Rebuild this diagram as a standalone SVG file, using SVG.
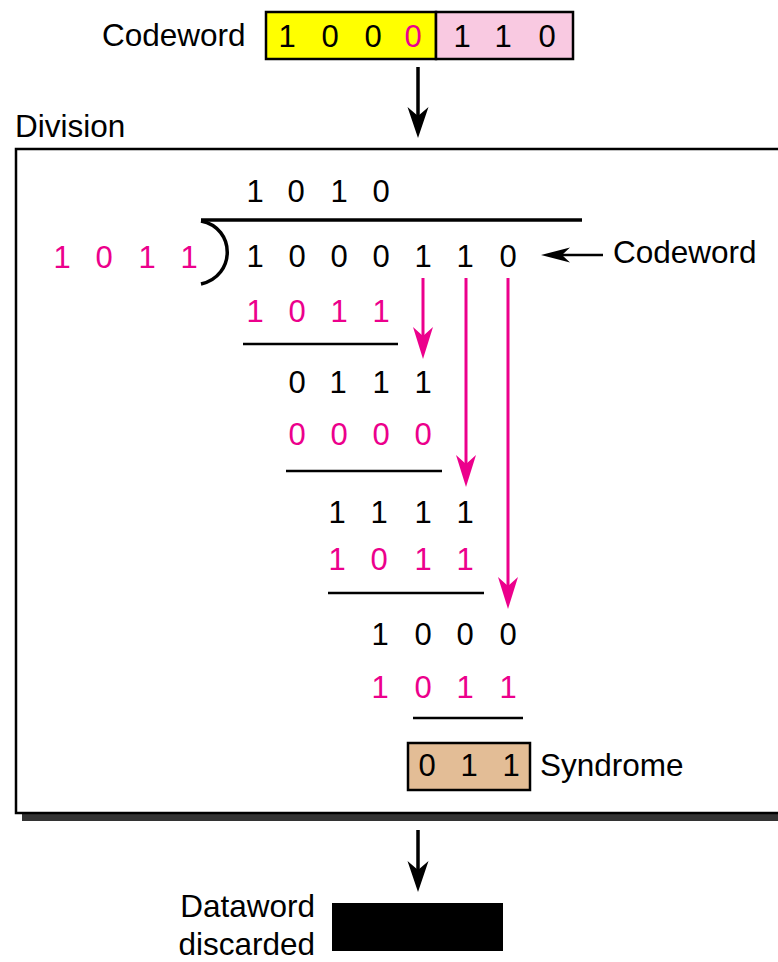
<svg xmlns="http://www.w3.org/2000/svg" width="778" height="962" viewBox="0 0 778 962">
  <defs>
    <style>
      text { font-family: "Liberation Sans", Arial, sans-serif; }
      .lbl { font-size: 31.5px; fill: #000; }
      .dg { font-size: 31px; fill: #000; text-anchor: middle; }
      .pk { fill: #ec008c; }
      .rule { stroke: #000; stroke-width: 2.5; fill: none; }
      .flow { stroke: #ec008c; stroke-width: 3; fill: none; marker-end: url(#pinkHead); }
      .down { stroke: #000; stroke-width: 3.5; fill: none; marker-end: url(#blackHead); }
    </style>
    <marker id="pinkHead" markerUnits="userSpaceOnUse" markerWidth="34" markerHeight="24" viewBox="0 -12 34 24" refX="9" refY="0" orient="auto">
      <path d="M0,-10 L32,0 L0,10 L9,0 Z" fill="#ec008c"/>
    </marker>
    <marker id="blackHead" markerUnits="userSpaceOnUse" markerWidth="34" markerHeight="24" viewBox="0 -12 34 24" refX="9" refY="0" orient="auto">
      <path d="M0,-10.5 L31,0 L0,10.5 L9,0 Z" fill="#000"/>
    </marker>
    <marker id="smallHead" markerUnits="userSpaceOnUse" markerWidth="32" markerHeight="18" viewBox="0 -9 32 18" refX="8" refY="0" orient="auto">
      <path d="M0,-7.5 L29,0 L0,7.5 L8,0 Z" fill="#000"/>
    </marker>
  </defs>

  <!-- received codeword -->
  <g id="codeword">
    <text class="lbl" x="102" y="46">Codeword</text>
    <rect x="266" y="12" width="170" height="47" fill="#ffff00" stroke="#000" stroke-width="2.5"/>
    <rect x="436" y="12" width="137" height="47" fill="#f9c9e1" stroke="#000" stroke-width="2.5"/>
    <text class="dg" x="287" y="47">1</text>
    <text class="dg" x="330" y="47">0</text>
    <text class="dg" x="373" y="47">0</text>
    <text class="dg pk" x="413" y="47">0</text>
    <text class="dg" x="462" y="47">1</text>
    <text class="dg" x="503" y="47">1</text>
    <text class="dg" x="547" y="47">0</text>
  </g>

  <!-- division frame -->
  <g id="division">
    <text class="lbl" x="15" y="137">Division</text>
    <rect x="22" y="157" width="800" height="664" fill="#333"/>
    <rect x="16" y="149" width="800" height="664" fill="#fff" stroke="#000" stroke-width="2.5"/>

    <!-- quotient -->
    <text class="dg" x="255" y="202">1</text>
    <text class="dg" x="296" y="202">0</text>
    <text class="dg" x="339" y="202">1</text>
    <text class="dg" x="381" y="202">0</text>

    <!-- division bar and bracket -->
    <line x1="201" y1="220" x2="582" y2="220" stroke="#000" stroke-width="3.5"/>
    <path d="M201,221 C236,228 236,276 201,284" stroke="#000" stroke-width="3.5" fill="none"/>

    <!-- divisor -->
    <text class="dg pk" x="62" y="268">1</text>
    <text class="dg pk" x="104" y="268">0</text>
    <text class="dg pk" x="147" y="268">1</text>
    <text class="dg pk" x="189" y="268">1</text>

    <!-- dividend -->
    <text class="dg" x="255" y="267">1</text>
    <text class="dg" x="297" y="267">0</text>
    <text class="dg" x="339" y="267">0</text>
    <text class="dg" x="381" y="267">0</text>
    <text class="dg" x="423" y="267">1</text>
    <text class="dg" x="465" y="267">1</text>
    <text class="dg" x="508" y="267">0</text>

    <!-- step 1 -->
    <text class="dg pk" x="255" y="322">1</text>
    <text class="dg pk" x="297" y="322">0</text>
    <text class="dg pk" x="339" y="322">1</text>
    <text class="dg pk" x="381" y="322">1</text>
    <line class="rule" x1="243" y1="344" x2="398" y2="344"/>
    <text class="dg" x="297" y="393">0</text>
    <text class="dg" x="338" y="393">1</text>
    <text class="dg" x="381" y="393">1</text>
    <text class="dg" x="423" y="393">1</text>

    <!-- step 2 -->
    <text class="dg pk" x="297" y="445">0</text>
    <text class="dg pk" x="339" y="445">0</text>
    <text class="dg pk" x="381" y="445">0</text>
    <text class="dg pk" x="423" y="445">0</text>
    <line class="rule" x1="286" y1="471" x2="442" y2="471"/>
    <text class="dg" x="337" y="523">1</text>
    <text class="dg" x="379" y="523">1</text>
    <text class="dg" x="423" y="523">1</text>
    <text class="dg" x="465" y="523">1</text>

    <!-- step 3 -->
    <text class="dg pk" x="337" y="570">1</text>
    <text class="dg pk" x="379" y="570">0</text>
    <text class="dg pk" x="423" y="570">1</text>
    <text class="dg pk" x="465" y="570">1</text>
    <line class="rule" x1="328" y1="593" x2="484" y2="593"/>
    <text class="dg" x="380" y="645">1</text>
    <text class="dg" x="423" y="645">0</text>
    <text class="dg" x="465" y="645">0</text>
    <text class="dg" x="508" y="645">0</text>

    <!-- step 4 -->
    <text class="dg pk" x="380" y="698">1</text>
    <text class="dg pk" x="423" y="698">0</text>
    <text class="dg pk" x="465" y="698">1</text>
    <text class="dg pk" x="508" y="698">1</text>
    <line class="rule" x1="413" y1="718" x2="523" y2="718"/>

    <text class="lbl" x="613" y="263">Codeword</text>
  </g>

  <!-- syndrome -->
  <g id="syndrome">
    <rect x="408" y="743" width="122" height="47" fill="#e3bd96" stroke="#000" stroke-width="2.5"/>
    <text class="dg" x="427" y="776">0</text>
    <text class="dg" x="469" y="776">1</text>
    <text class="dg" x="511" y="776">1</text>
    <text class="lbl" x="540" y="776">Syndrome</text>
  </g>

  <!-- discarded dataword -->
  <g id="dataword">
    <text class="lbl" x="315" y="917" text-anchor="end">Dataword</text>
    <text class="lbl" x="315" y="955" text-anchor="end">discarded</text>
    <rect x="332" y="903" width="171" height="48" fill="#000"/>
  </g>

  <!-- connectors -->
  <g id="connectors">
    <line class="down" x1="418" y1="67" x2="418" y2="116"/>
    <line class="down" x1="418" y1="830" x2="418" y2="870"/>
    <line x1="603" y1="255" x2="562" y2="255" stroke="#000" stroke-width="2.5" marker-end="url(#smallHead)"/>
    <line class="flow" x1="423" y1="278" x2="423" y2="336"/>
    <line class="flow" x1="466" y1="278" x2="466" y2="464"/>
    <line class="flow" x1="508" y1="278" x2="508" y2="586"/>
  </g>
</svg>
